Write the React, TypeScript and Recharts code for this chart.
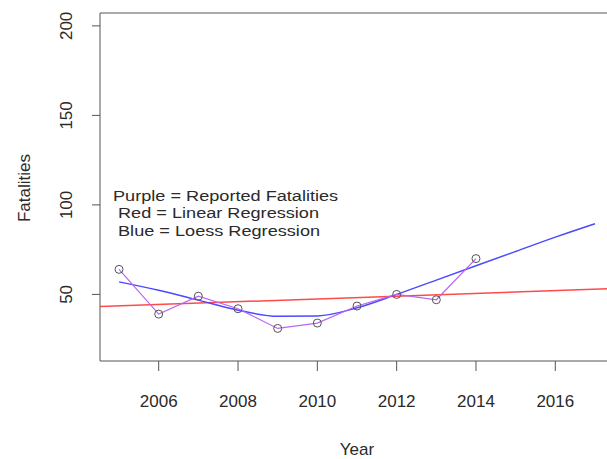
import { Label, Line, LineChart, ReferenceLine, XAxis, YAxis } from "recharts";

const YEARS = [2005, 2006, 2007, 2008, 2009, 2010, 2011, 2012, 2013, 2014];
const REPORTED = [64, 39, 49, 42, 31, 34, 43.5, 50, 47, 70];

const LOESS_YEARS = [2005, 2006, 2007, 2008, 2009, 2010, 2011, 2012, 2013, 2014, 2015, 2016, 2017];
const LOESS = [57, 52.3, 46.8, 41.2, 37.8, 38, 42.5, 50, 58, 66, 74, 82, 89.5];

const LINEAR_YEARS = [2004.52, 2017.48];
const LINEAR = [43.2, 53.3];

const X_TICKS = [2006, 2008, 2010, 2012, 2014, 2016];
const Y_TICKS = [50, 100, 150, 200];
const X_DOMAIN = [2004.52, 2017.48];
const Y_DOMAIN = [12.8, 207.2];

const LEGEND_LINES = ["Purple = Reported Fatalities", " Red = Linear Regression", " Blue = Loess Regression"];

const FONT = '"Liberation Sans", Arial, sans-serif';
const AXIS = "#555";
const TEXT = "#2a2a2a";

const reportedData = YEARS.map((year, i) => ({ year, value: REPORTED[i] }));
const loessData = LOESS_YEARS.map((year, i) => ({ year, value: LOESS[i] }));
const linearData = LINEAR_YEARS.map((year, i) => ({ year, value: LINEAR[i] }));

function YTick({ y, payload }: any) {
  return (
    <text transform={`translate(66, ${y}) rotate(-90)`} textAnchor="middle" dy="0.35em" fontSize={17} fill={TEXT} fontFamily={FONT}>
      {payload.value}
    </text>
  );
}

function XTick({ x, payload }: any) {
  return (
    <text x={x} y={401} textAnchor="middle" dy="0.35em" fontSize={17} fill={TEXT} fontFamily={FONT}>
      {payload.value}
    </text>
  );
}

export default function App() {
  return (
    <div style={{ position: "absolute", left: 0, top: 0, width: 607, height: 459, overflow: "hidden", background: "#fff" }}>
      <LineChart width={640} height={459} margin={{ top: 13, right: 26, left: 0, bottom: 0 }}>
        <XAxis
          dataKey="year"
          type="number"
          domain={X_DOMAIN}
          ticks={X_TICKS}
          allowDataOverflow
          height={98}
          stroke={AXIS}
          tickSize={10}
          tick={(p: any) => <XTick {...p} />}
        >
          <Label
            content={() => (
              <text x={357} y={449} textAnchor="middle" dy="0.35em" fontSize={17} fill={TEXT} fontFamily={FONT}>
                Year
              </text>
            )}
          />
        </XAxis>
        <YAxis
          type="number"
          domain={Y_DOMAIN}
          ticks={Y_TICKS}
          allowDataOverflow
          width={100}
          stroke={AXIS}
          tickSize={8}
          tick={(p: any) => <YTick {...p} />}
        >
          <Label
            content={() => (
              <text transform="translate(24, 188) rotate(-90)" textAnchor="middle" dy="0.35em" fontSize={17} fill={TEXT} fontFamily={FONT}>
                Fatalities
              </text>
            )}
          />
        </YAxis>
        <ReferenceLine y={Y_DOMAIN[1]} stroke={AXIS} />
        <Line data={linearData} dataKey="value" stroke="#ff4a4a" strokeWidth={1.5} dot={false} isAnimationActive={false} />
        <Line data={loessData} type="monotone" dataKey="value" stroke="#4a4aff" strokeWidth={1.5} dot={false} isAnimationActive={false} />
        <Line
          data={reportedData}
          dataKey="value"
          stroke="#b866f2"
          strokeWidth={1.2}
          dot={{ r: 4, stroke: "#555", strokeWidth: 1, fill: "none" }}
          isAnimationActive={false}
        />
      </LineChart>
      <svg width={607} height={459} style={{ position: "absolute", left: 0, top: 0, pointerEvents: "none" }}>
        {LEGEND_LINES.map((line, i) => (
          <text
            key={i}
            transform={`translate(113, ${201 + i * 17.3}) scale(1.17, 1)`}
            fontSize={15.5}
            fill={TEXT}
            fontFamily={FONT}
            style={{ whiteSpace: "pre" }}
          >
            {line}
          </text>
        ))}
      </svg>
    </div>
  );
}
